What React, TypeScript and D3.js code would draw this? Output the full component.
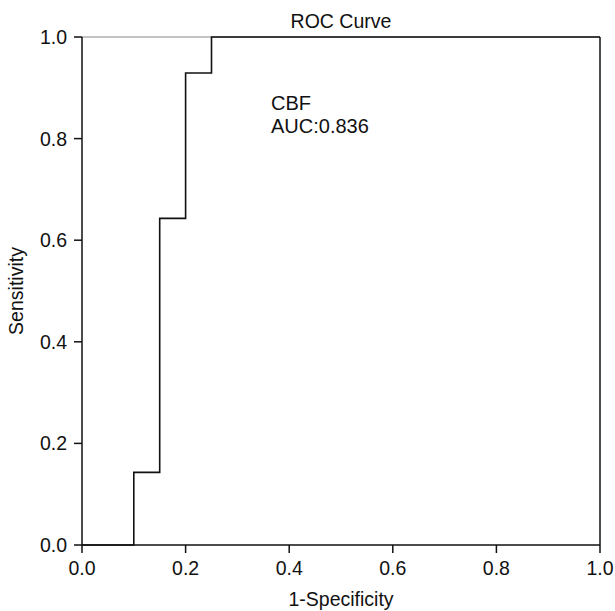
import React from 'react';
import * as d3 from 'd3';

// ROC step curve (1-specificity, sensitivity)
const fpr = [0, 0.1, 0.1, 0.15, 0.15, 0.2, 0.2, 0.25, 0.25, 1.0];
const tpr = [0, 0, 0.143, 0.143, 0.643, 0.643, 0.929, 0.929, 1.0, 1.0];
const tickValues = [0, 0.2, 0.4, 0.6, 0.8, 1.0];
const labelLines = ['CBF', 'AUC:0.836'];

const W = 615, H = 611;
const margin = { top: 37, right: 15, bottom: 66, left: 82 };

export default function App() {
  const x = d3.scaleLinear().domain([0, 1]).range([margin.left, W - margin.right]);
  const y = d3.scaleLinear().domain([0, 1]).range([H - margin.bottom, margin.top]);

  const line = d3.line<number>()
    .x((d, i) => x(fpr[i]))
    .y((d, i) => y(tpr[i]));

  const font = 'Liberation Sans, Arial, Helvetica, sans-serif';
  const fs = 19.5;

  return (
    <svg width={W} height={H} style={{ position: 'absolute', left: 0, top: 0 }} fontFamily={font}>
      <rect width={W} height={H} fill="#fff" />
      {/* frame */}
      <line x1={x(0)} x2={x(1)} y1={y(1)} y2={y(1)} stroke="#888" strokeWidth={1.2} />
      <line x1={x(0)} x2={x(0)} y1={y(0)} y2={y(1)} stroke="#111" strokeWidth={1.5} />
      <line x1={x(1)} x2={x(1)} y1={y(0)} y2={y(1)} stroke="#111" strokeWidth={1.5} />
      <line x1={x(0)} x2={x(1)} y1={y(0)} y2={y(0)} stroke="#111" strokeWidth={1.5} />

      {/* curve */}
      <path d={line(fpr) || ''} fill="none" stroke="#111" strokeWidth={1.6} />

      {/* x axis ticks */}
      {tickValues.map(t => (
        <g key={'x' + t}>
          <line x1={x(t)} x2={x(t)} y1={y(0)} y2={y(0) + 8} stroke="#111" strokeWidth={1.5} />
          <text x={x(t)} y={y(0) + 30} textAnchor="middle" fontSize={fs} fill="#111">{t.toFixed(1)}</text>
        </g>
      ))}
      {/* y axis ticks */}
      {tickValues.map(t => (
        <g key={'y' + t}>
          <line x1={x(0) - 8} x2={x(0)} y1={y(t)} y2={y(t)} stroke="#111" strokeWidth={1.5} />
          <text x={x(0) - 15} y={y(t) + 7} textAnchor="end" fontSize={fs} fill="#111">{t.toFixed(1)}</text>
        </g>
      ))}

      <text x={(x(0) + x(1)) / 2} y={28} textAnchor="middle" fontSize={fs} fill="#111">ROC Curve</text>
      <text x={(x(0) + x(1)) / 2} y={606} textAnchor="middle" fontSize={fs} fill="#111">1-Specificity</text>
      <text transform={`translate(23,${(y(0) + y(1)) / 2}) rotate(-90)`} textAnchor="middle" fontSize={fs} fill="#111">Sensitivity</text>

      {labelLines.map((s, i) => (
        <text key={s} x={271} y={110 + i * 23} fontSize={20} fill="#111">{s}</text>
      ))}
    </svg>
  );
}
